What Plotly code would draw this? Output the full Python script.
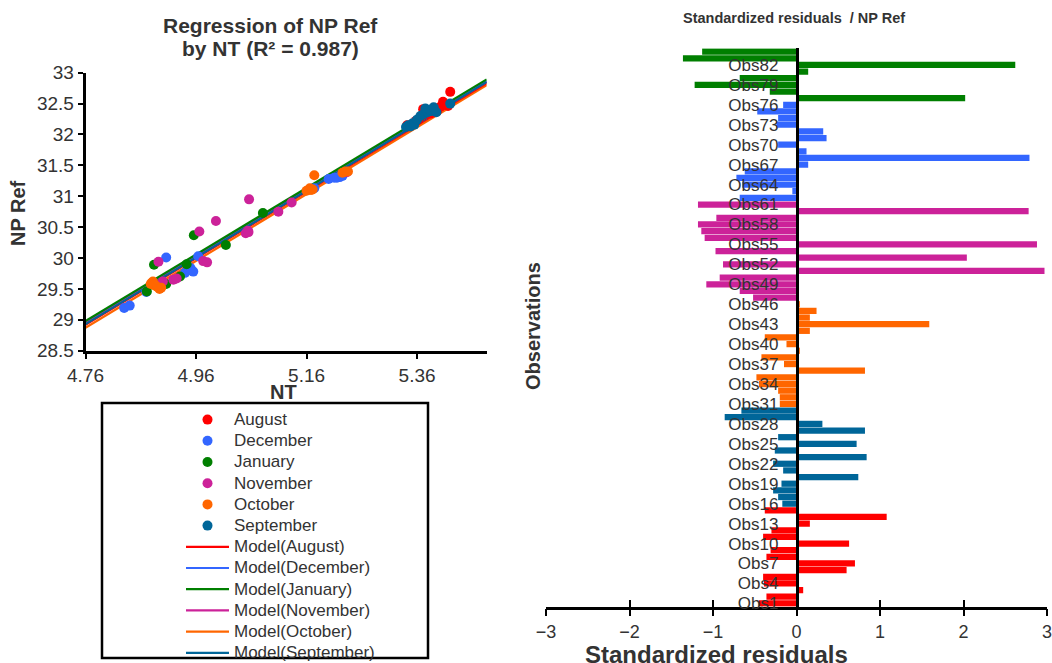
import plotly.graph_objects as go

W, H = 1052, 663
def px(x):
    return x / W
def py(y):
    return 1 - y / H

FONT = "Liberation Sans, Arial, sans-serif"
TXT = "#333333"

# ---------------- data ----------------
months = ["August", "December", "January", "November", "October", "September"]
month_colors = ["#FF0000", "#3366FF", "#007F00", "#CC2299", "#FF6600", "#006699"]

# scatter: NT (x) and NP Ref (y) per month
nt_aug = [5.342, 5.350, 5.358, 5.362, 5.368, 5.371, 5.376, 5.380, 5.385, 5.390, 5.396, 5.402, 5.407, 5.416, 5.420]
np_aug = [32.15, 32.16, 32.22, 32.24, 32.30, 32.41, 32.33, 32.37, 32.34, 32.41, 32.38, 32.45, 32.53, 32.46, 32.69]
nt_dec = [4.830, 4.840, 4.870, 4.906, 4.940, 4.945, 4.950, 4.955, 4.964, 5.174, 5.200, 5.210, 5.215, 5.220, 5.225]
np_dec = [29.19, 29.23, 29.45, 30.01, 29.76, 29.80, 29.84, 29.78, 30.03, 31.13, 31.28, 31.30, 31.30, 31.31, 31.33]
nt_jan = [4.871, 4.884, 4.906, 4.931, 4.943, 4.956, 5.014, 5.081]
np_jan = [29.46, 29.89, 29.58, 29.70, 29.90, 30.37, 30.21, 30.73]
nt_nov = [4.892, 4.900, 4.919, 4.925, 4.966, 4.973, 4.980, 4.996, 5.050, 5.054, 5.055, 5.056, 5.109, 5.133, 5.233]
np_nov = [29.94, 29.62, 29.65, 29.67, 30.43, 29.95, 29.93, 30.60, 30.40, 30.44, 30.42, 30.95, 30.75, 30.90, 31.39]
nt_oct = [4.878, 4.880, 4.882, 4.884, 4.885, 4.890, 4.894, 4.897, 5.160, 5.166, 5.168, 5.171, 5.174, 5.225, 5.230, 5.235]
np_oct = [29.58, 29.60, 29.62, 29.56, 29.57, 29.53, 29.50, 29.52, 31.09, 31.13, 31.10, 31.11, 31.34, 31.38, 31.40, 31.40]
nt_sep = [5.340, 5.344, 5.348, 5.352, 5.355, 5.360, 5.366, 5.372, 5.375, 5.379, 5.382, 5.386, 5.390, 5.395, 5.420]
np_sep = [32.12, 32.15, 32.13, 32.18, 32.16, 32.24, 32.30, 32.33, 32.42, 32.36, 32.40, 32.38, 32.44, 32.36, 32.50]

nt_points = [nt_aug, nt_dec, nt_jan, nt_nov, nt_oct, nt_sep]
np_points = [np_aug, np_dec, np_jan, np_nov, np_oct, np_sep]

# model lines: NP Ref at the two ends of the NT range, per month
model_nt = [4.76, 5.486]
model_start = [28.92, 28.95, 28.98, 28.94, 28.87, 28.93]
model_end = [32.83, 32.86, 32.89, 32.85, 32.80, 32.85]

# standardized residuals by observation (chronological groups)
resid_aug = [-0.45, -0.36, 0.08, -0.39, -0.40, 0.60, 0.70, -0.36, -0.31, 0.63, -0.40, -0.30, 0.16, 1.08, -0.38]
resid_sep = [-0.17, -0.22, -0.28, -0.18, 0.74, -0.16, -0.28, 0.84, -0.26, 0.72, -0.22, 0.82, 0.31, -0.86, -0.66]
resid_oct = [-0.20, -0.20, -0.22, -0.45, -0.48, 0.82, -0.15, -0.42, 0.04, -0.12, -0.38, 0.16, 1.59, 0.16, 0.24, 0.04]
resid_nov = [-0.52, -0.68, -1.08, -0.92, 2.97, -0.88, 2.04, -0.97, 2.88, -1.10, -1.14, -1.18, -0.96, 2.78, -1.18]
resid_dec = [-0.68, -0.05, -0.65, -0.72, -0.62, 0.14, 2.79, 0.12, -0.22, 0.36, 0.32, -0.24, -0.22, -0.47, -0.16]
resid_jan = [2.02, -0.32, -1.22, -0.68, 0.14, 2.62, -1.36, -1.13]

resid_months = ["August", "September", "October", "November", "December", "January"]
resid_colors = ["#FF0000", "#006699", "#FF6600", "#CC2299", "#3366FF", "#007F00"]
resid_values = [resid_aug, resid_sep, resid_oct, resid_nov, resid_dec, resid_jan]

n_obs = sum(len(v) for v in resid_values)
obs_names = ["Obs%d" % (i + 1) for i in range(n_obs)]
obs_ticks = ["Obs1", "Obs4", "Obs7", "Obs10", "Obs13", "Obs16", "Obs19", "Obs22", "Obs25", "Obs28",
             "Obs31", "Obs34", "Obs37", "Obs40", "Obs43", "Obs46", "Obs49", "Obs52", "Obs55", "Obs58",
             "Obs61", "Obs64", "Obs67", "Obs70", "Obs73", "Obs76", "Obs79", "Obs82"]

x_ticks_left = [4.76, 4.96, 5.16, 5.36]
y_ticks_left = [28.5, 29, 29.5, 30, 30.5, 31, 31.5, 32, 32.5, 33]
x_ticks_right = [-3, -2, -1, 0, 1, 2, 3]

def legend_label(s):
    return "<span style='font-size:17px'>%s</span>" % s

# ---------------- figure ----------------
fig = go.Figure()

# model lines (drawn first, listed after the points in the legend)
line_order = [4, 0, 1, 3, 2, 5]
for i in line_order:
    fig.add_trace(go.Scatter(
        x=model_nt, y=[model_start[i], model_end[i]], mode="lines",
        line=dict(color=month_colors[i], width=2.2),
        name=legend_label("Model(%s)" % months[i]), legendrank=100 + i,
        xaxis="x", yaxis="y"))

for i, m in enumerate(months):
    fig.add_trace(go.Scatter(
        x=nt_points[i], y=np_points[i], mode="markers",
        marker=dict(color=month_colors[i], size=10),
        name=legend_label(m), legendrank=1 + i, xaxis="x", yaxis="y"))

start = 0
for m, c, vals in zip(resid_months, resid_colors, resid_values):
    fig.add_trace(go.Bar(
        x=vals, y=obs_names[start:start + len(vals)], orientation="h",
        marker=dict(color=c, line=dict(width=0)), name=m, showlegend=False,
        xaxis="x2", yaxis="y2"))
    start += len(vals)

# empty helper trace so the overlay axis carrying the inner tick marks is drawn
fig.add_trace(go.Scatter(x=[], y=[], xaxis="x3", yaxis="y2", showlegend=False))

axis_common = dict(showline=True, linecolor="black", linewidth=2.5, showgrid=False,
                   zeroline=False, tickcolor="black", tickwidth=2, automargin=False,
                   ticklabeloverflow="allow",
                   tickfont=dict(family=FONT, size=19, color=TXT))

def note(x, y, text, size, angle=0):
    return dict(x=px(x), y=py(y), xref="paper", yref="paper", showarrow=False,
                xanchor="center", yanchor="middle", text=text, textangle=angle,
                font=dict(family=FONT, size=size, color=TXT))

xd2 = [px(546), px(1047)]
fig.update_layout(
    width=W, height=H,
    margin=dict(l=0, r=0, t=0, b=0, pad=0, autoexpand=False),
    paper_bgcolor="white", plot_bgcolor="white",
    font=dict(family=FONT, color=TXT),
    barmode="overlay", bargap=0.06,
    xaxis=dict(axis_common, domain=[px(85.5), px(486.7)], range=[4.76, 5.486],
               tickvals=x_ticks_left, ticktext=["%.2f" % v for v in x_ticks_left],
               ticks="outside", ticklen=6, anchor="y"),
    yaxis=dict(axis_common, domain=[py(350.7), py(72.7)], range=[28.5, 33],
               tickvals=y_ticks_left, ticktext=["%g" % v for v in y_ticks_left],
               ticks="outside", ticklen=5, anchor="x"),
    xaxis2=dict(axis_common, domain=xd2, range=[-3, 3], tickvals=x_ticks_right,
                ticks="outside", ticklen=7, anchor="y2",
                tickfont=dict(family=FONT, size=18, color=TXT)),
    xaxis3=dict(overlaying="x2", anchor="y2", range=[-3, 3], tickvals=x_ticks_right,
                ticks="inside", ticklen=7, tickwidth=2, tickcolor="black", automargin=False,
                showticklabels=False, showline=False, showgrid=False, zeroline=False),
    yaxis2=dict(domain=[py(606.7), py(48.3)], type="category",
                categoryorder="array", categoryarray=obs_names,
                range=[-0.5, n_obs - 0.5], anchor="free",
                position=(xd2[0] + xd2[1]) / 2, automargin=False,
                showline=True, linecolor="black", linewidth=2.5, showgrid=False,
                zeroline=False, ticks="", tickvals=obs_ticks, ticktext=obs_ticks,
                ticklabelstandoff=14,
                tickfont=dict(family=FONT, size=17, color=TXT)),
    legend=dict(x=px(181), y=py(404), xanchor="left", yanchor="top",
                bgcolor="rgba(0,0,0,0)", borderwidth=0, itemwidth=43,
                font=dict(family=FONT, size=14, color=TXT)),
    shapes=[dict(type="rect", xref="paper", yref="paper",
                 x0=px(102), x1=px(428), y0=py(658), y1=py(403),
                 line=dict(color="black", width=2.5))],
    annotations=[
        note(270, 25.7, "<b>Regression of NP Ref</b>", 21),
        note(270, 49, "<b>by NT (R² = 0.987)</b>", 21),
        note(794, 18, "<b>Standardized residuals \u00a0/ NP Ref</b>", 14.5),
        note(283, 392, "<b>NT</b>", 20),
        note(18, 213, "<b>NP Ref</b>", 20, -90),
        note(533, 326, "<b>Observations</b>", 20, -90),
        note(716, 654, "<b>Standardized residuals</b>", 24),
    ],
)

fig.write_html("out.html", config={"displayModeBar": False},
               post_script="document.body.style.margin='0px';document.body.style.overflow='hidden';")
